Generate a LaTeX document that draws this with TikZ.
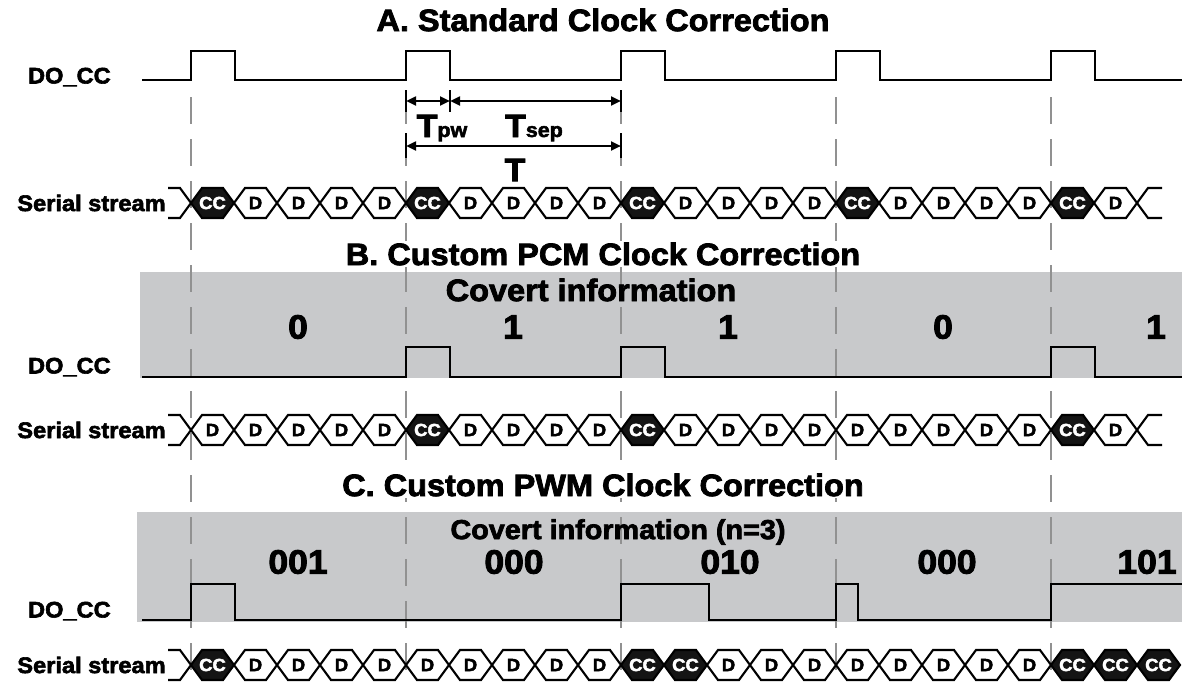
\documentclass[tikz,border=0pt]{standalone}
\usepackage{fontspec}
\usetikzlibrary{arrows.meta,positioning,calc}
\newfontfamily\hv{Liberation Sans Bold}[FakeStretch=1.05,FakeBold=2.6]
\definecolor{sh}{RGB}{200,201,203}
\definecolor{dl}{RGB}{145,145,145}
\tikzset{sig/.style={line width=2.1pt},
 cellln/.style={line width=1.5pt,line join=miter},
 vline/.style={dl,line width=2pt,dash pattern=on 0.68cm off 0.37cm},
 ttl/.style={font=\hv\fontsize{22}{24}\selectfont,fill=white,inner sep=1pt},
 lbl/.style={font=\hv\fontsize{16}{18}\selectfont,anchor=east,inner sep=0pt},
 cov/.style={font=\hv\fontsize{22}{24}\selectfont},
 dig/.style={font=\hv\fontsize{24}{26}\selectfont},
 cctx/.style={text=white,font=\hv\fontsize{12.5}{14}\selectfont,inner sep=0pt},
 ddtx/.style={cctx,text=black},
 arr/.style={{Stealth[length=2.5mm,width=2.2mm,inset=0pt]}-{Stealth[length=2.5mm,width=2.2mm,inset=0pt]},line width=1.6pt},
 dimbar/.style={line width=2.1pt},
 cc/.pic={\draw[cellln,fill=black!92] (0,0)--(11,-15)--(32,-15)--(43,0)--(32,15)--(11,15)--cycle;
   \node[cctx] (-t) at (21.5,0) {CC};},
 dd/.pic={\draw[cellln,fill=white] (0,0)--(11,-15)--(32,-15)--(43,0)--(32,15)--(11,15)--cycle;
   \node[ddtx] (-t) at (21.5,0) {D};}}

\begin{document}
\begin{tikzpicture}[x=0.025cm,y=-0.025cm]
\useasboundingbox (0,0) rectangle (1182,684);
% shaded bands
\fill[sh] (140,272) rectangle (1182,378);
\fill[sh] (137,512) rectangle (1182,622);
\foreach \x in {191,406,621,836,1051}{\draw[vline] (\x,97)--(\x,684);}
\node[ttl] (tA) at (603,20) {A. Standard Clock Correction};
\node[ttl] (tB) at (603,254) {B. Custom PCM Clock Correction};
\node[ttl] (tC) at (603,485) {C. Custom PWM Clock Correction};
% A
\node[lbl] (ldA) at (111,77) {DO\_CC};
\draw[sig] (142,80) \foreach \p in {191,406,621,836,1051}{--(\p,80)--++(0,-29)--++(44,0)--++(0,29)} --(1182,80);
\coordinate (p0) at (406,101);\coordinate (p1) at (450,101);\coordinate (p2) at (621,101);
\coordinate (q0) at (406,146);\coordinate (q1) at (621,146);
\foreach \c in {p0,p1,p2}{\draw[dimbar] ($(\c)+(0,-11)$)--($(\c)+(0,11)$);}
\foreach \c in {q0,q1}{\draw[dimbar] ($(\c)+(0,-13)$)--($(\c)+(0,12)$);}
\draw[arr] (p0)--(p1);\draw[arr] (p1)--(p2);\draw[arr] (q0)--(q1);
\node[font=\hv] (tpw) at (442,128) {\fontsize{23}{24}\selectfont T\fontsize{14.5}{16}\selectfont pw};
\node[font=\hv] (tsep) at (534,128) {\fontsize{23}{24}\selectfont T\fontsize{14.5}{16}\selectfont sep};
\node[font=\hv\fontsize{23}{24}\selectfont] (tT) at (515,170) {T};
\node[lbl] (lsA) at (166,203) {Serial stream};
\draw[cellln] (168,188)--(180,188)--(191,203)--(180,218)--(168,218);
\foreach \s [count=\k from 0] in {cc,dd,dd,dd,dd,cc,dd,dd,dd,dd,cc,dd,dd,dd,dd,cc,dd,dd,dd,dd,cc,dd}
  {\pic (a\k) at ({191+43*\k},203) {\s};}
\draw[cellln] (1162,188)--(1148,188)--(1137,203)--(1148,218)--(1162,218);
% B
\node[cov] (cvB) at (591,290) {Covert information};
\foreach \v/\x [count=\i] in {0/298,1/513,1/728,0/943,1/1156}{\node[dig] (bd\i) at (\x,327) {\v};}
\node[lbl] (ldB) at (111,367) {DO\_CC};
\draw[sig] (142,377) \foreach \p in {406,621,1051}{--(\p,377)--++(0,-30)--++(44,0)--++(0,30)} --(1182,377);
\node[lbl] (lsB) at (166,430) {Serial stream};
\draw[cellln] (168,415)--(180,415)--(191,430)--(180,445)--(168,445);
\foreach \s [count=\k from 0] in {dd,dd,dd,dd,dd,cc,dd,dd,dd,dd,cc,dd,dd,dd,dd,dd,dd,dd,dd,dd,cc,dd}
  {\pic (b\k) at ({191+43*\k},430) {\s};}
\draw[cellln] (1162,415)--(1148,415)--(1137,430)--(1148,445)--(1162,445);
% C
\node[cov,font=\hv\fontsize{19.5}{22}\selectfont] (cvC) at (618,532) {Covert information (n=3)};
\foreach \v/\x [count=\i] in {001/298,000/514,010/730,000/947,101/1147}{\node[dig] (cd\i) at (\x,562) {\v};}
\node[lbl] (ldC) at (111,611) {DO\_CC};
\draw[sig] (142,620) \foreach \p/\w in {191/44,621/88,836/22}{--(\p,620)--++(0,-36)--++(\w,0)--++(0,36)} --(1051,620)--(1051,584)--(1182,584);
\node[lbl] (lsC) at (166,665) {Serial stream};
\draw[cellln] (168,650)--(180,650)--(191,665)--(180,680)--(168,680);
\foreach \s [count=\k from 0] in {cc,dd,dd,dd,dd,dd,dd,dd,dd,dd,cc,cc,dd,dd,dd,dd,dd,dd,dd,dd,cc,cc,cc}
  {\pic (c\k) at ({191+43*\k},665) {\s};}
\end{tikzpicture}
\end{document}
